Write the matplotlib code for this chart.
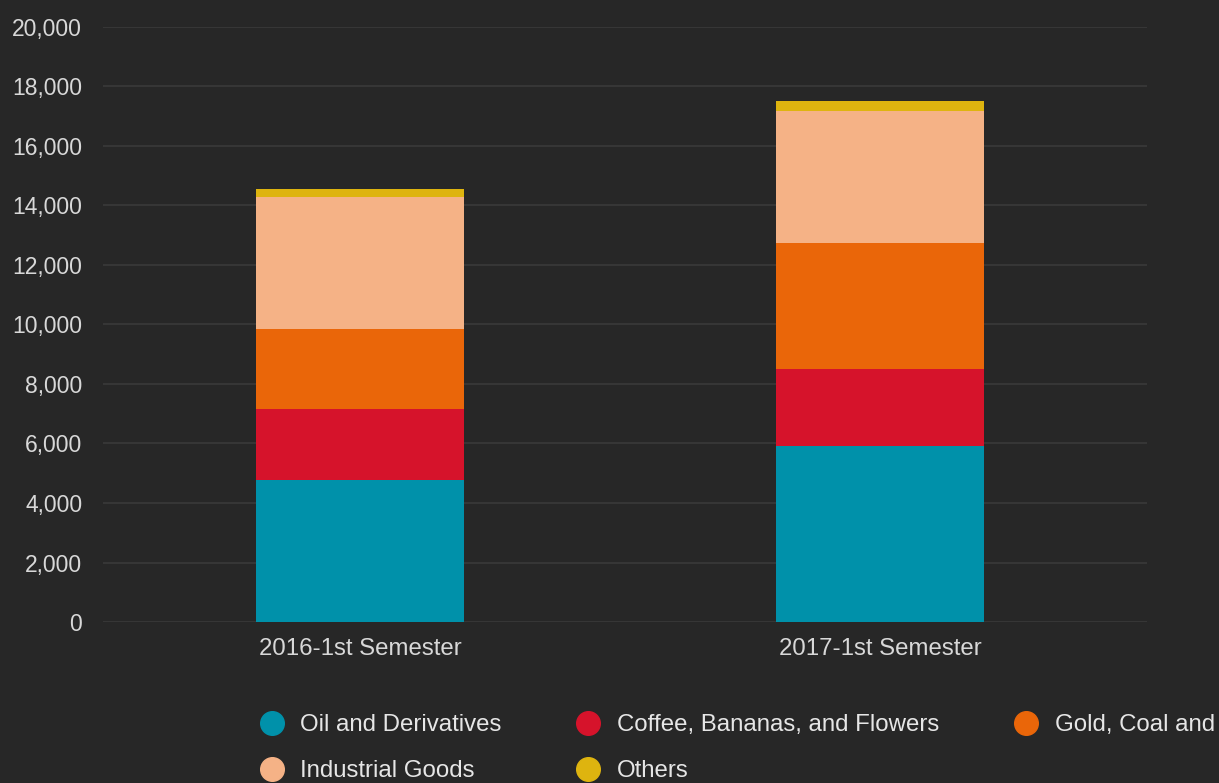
import matplotlib
matplotlib.use("Agg")
import matplotlib.pyplot as plt
from matplotlib.lines import Line2D
import numpy as np

plt.rcParams['font.family'] = ['Liberation Sans', 'DejaVu Sans']

# exports by product group, 1st semester (USD millions)
semesters = ['2016-1st Semester', '2017-1st Semester']
groups = ['Oil and Derivatives', 'Coffee, Bananas, and Flowers',
          'Gold, Coal and Ferronickel', 'Industrial Goods', 'Others']
oil = [4770, 5920]
coffee = [2380, 2570]
gold = [2690, 4240]
industrial = [4460, 4460]
others = [245, 310]
colors = ['#0091AA', '#D6132B', '#EA6609', '#F5B286', '#DEB40F']

bg = '#272727'
txt = '#d8d8d8'

fig = plt.figure(figsize=(12.19, 7.83), dpi=100, facecolor=bg)
ax = fig.add_axes([0.0845, 0.2056, 0.8565, 0.760])
ax.set_facecolor(bg)

x = np.arange(len(semesters))
bottom = np.zeros(len(semesters))
for vals, c in zip([oil, coffee, gold, industrial, others], colors):
    ax.bar(x, vals, width=0.40, bottom=bottom, color=c, zorder=3)
    bottom += np.array(vals)

ax.set_xlim(-0.494, 1.513)
ax.set_ylim(0, 20000)
ax.set_yticks(np.arange(0, 20001, 2000))
ax.yaxis.set_major_formatter(matplotlib.ticker.FuncFormatter(lambda v, p: f'{int(v):,}'))
ax.set_xticks(x)
ax.set_xticklabels(semesters)
ax.grid(axis='y', color='#383838', linewidth=1.3, zorder=0)
ax.tick_params(axis='y', length=0, pad=15, labelsize=16.5, labelcolor=txt)
ax.tick_params(axis='x', length=0, pad=11.5, labelsize=17.3, labelcolor=txt)
for s in ax.spines.values():
    s.set_visible(False)

handles = [Line2D([], [], marker='o', linestyle='none', markersize=17,
                  markerfacecolor=c, markeredgecolor=c) for c in colors]
# legend fills column by column; reorder so it reads across rows
# (the last label runs past the right edge of the figure)
order = [0, 3, 1, 4, 2]
leg = fig.legend([handles[i] for i in order], [groups[i] for i in order],
                 ncol=3, loc='upper left',
                 bbox_to_anchor=(0.213, 0.088), frameon=False, fontsize=17.3,
                 handlelength=1.0, handletextpad=0.7, columnspacing=3.1,
                 labelspacing=1.0, borderpad=0, borderaxespad=0)
for t in leg.get_texts():
    t.set_color('#e6e6e6')

fig.savefig('out.png', dpi=100, facecolor=bg)
